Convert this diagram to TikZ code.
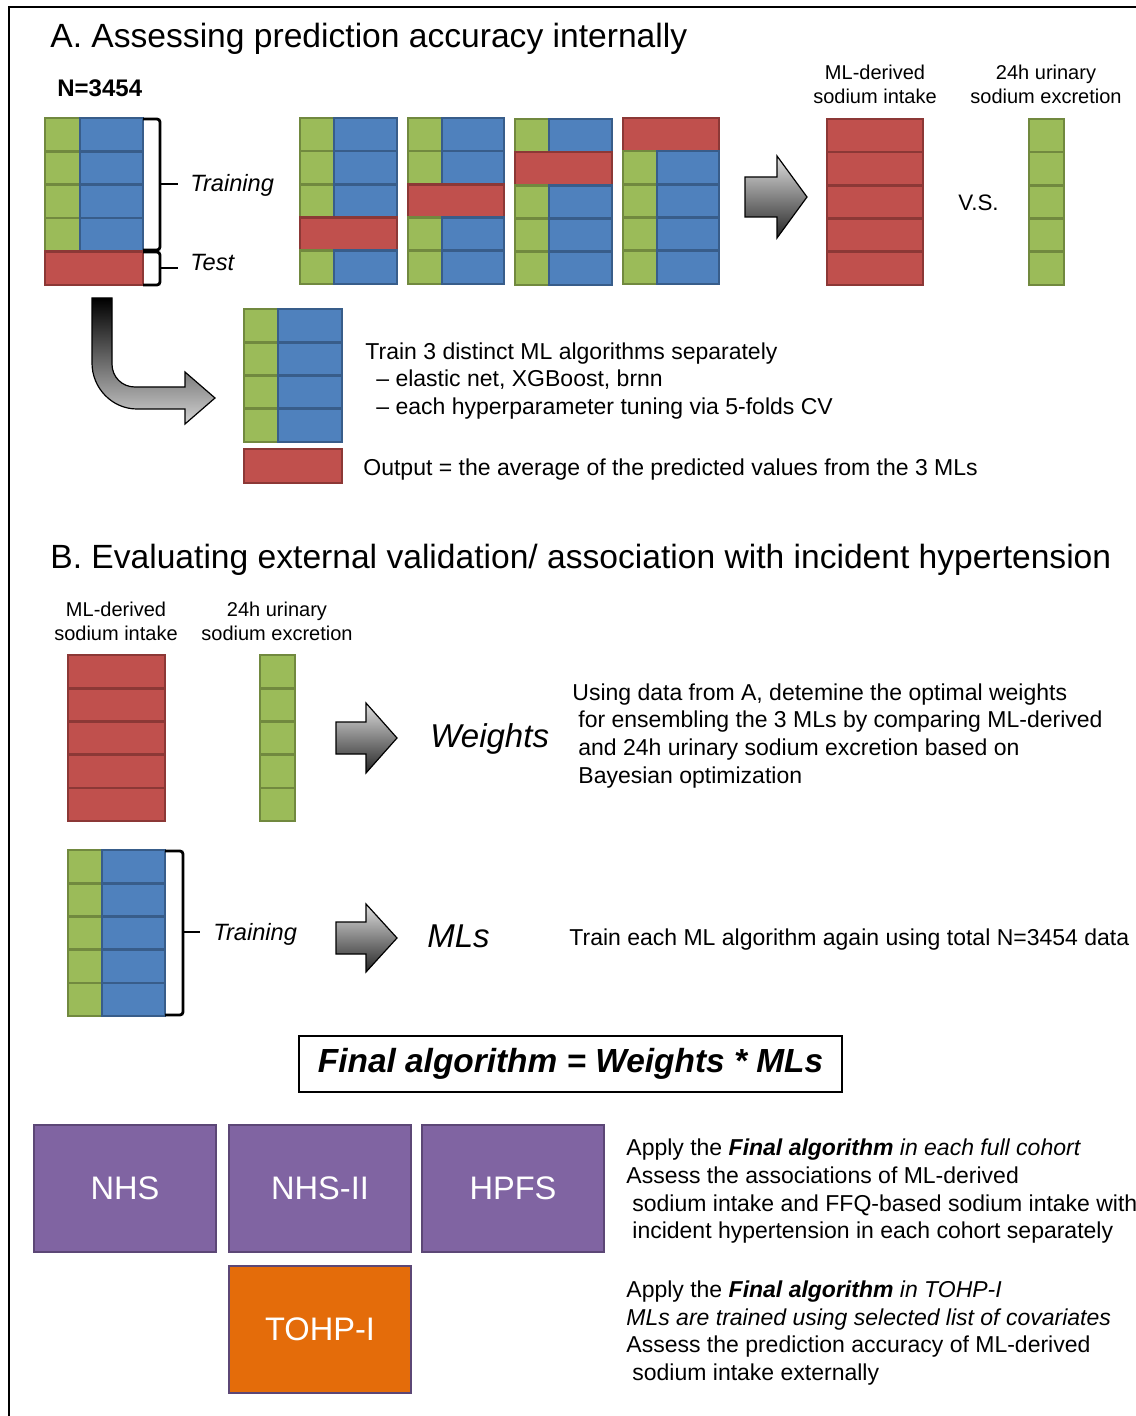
\documentclass[tikz,border=0pt]{standalone}
\usepackage{fontspec}
\setmainfont{Liberation Sans}
\usetikzlibrary{shadings}

\definecolor{gfill}{HTML}{9BBB59}
\definecolor{gline}{HTML}{71893F}
\definecolor{bfill}{HTML}{4F81BD}
\definecolor{bline}{HTML}{385D8A}
\definecolor{rfill}{HTML}{C0504D}
\definecolor{rline}{HTML}{8C3836}
\definecolor{pfill}{HTML}{8064A2}
\definecolor{pline}{HTML}{5C4776}
\definecolor{ofill}{HTML}{E46C0A}

% one block of data rows: green key column + blue feature columns, one row may be red
\newcommand\datablock[7]{% #1 x left, #2 x split, #3 x right, #4 y top, #5 row height, #6 rows, #7 red row
  \foreach \rw in {1,...,#6}{%
    \pgfmathsetmacro\ya{#4+(\rw-1)*#5}%
    \pgfmathsetmacro\yb{#4+\rw*#5}%
    \ifnum\rw=#7\relax
      \filldraw[redcell] (#1,\ya) rectangle (#3,\yb);
    \else
      \filldraw[greencell] (#1,\ya) rectangle (#2,\yb);
      \filldraw[bluecell] (#2,\ya) rectangle (#3,\yb);
    \fi}}
% a single-colour column of rows
\newcommand\colblock[6]{% #1 style, #2 x left, #3 x right, #4 y top, #5 row height, #6 rows
  \foreach \rw in {1,...,#6}{%
    \pgfmathsetmacro\ya{#4+(\rw-1)*#5}%
    \pgfmathsetmacro\yb{#4+\rw*#5}%
    \filldraw[#1] (#2,\ya) rectangle (#3,\yb);}}
% grey block arrow pointing right
\newcommand\blockarrow[6]{% #1 x left, #2 x head, #3 x tip, #4 y mid, #5 shaft half, #6 head half
  \draw[blockarr] (#1,#4-#5) -- (#2,#4-#5) -- (#2,#4-#6) -- (#3,#4) -- (#2,#4+#6)
    -- (#2,#4+#5) -- (#1,#4+#5) -- cycle;}

\begin{document}
\begin{tikzpicture}[x=0.5pt,y=-0.5pt,
  greencell/.style={fill=gfill,draw=gline,line width=1.3pt},
  bluecell/.style={fill=bfill,draw=bline,line width=1.3pt},
  redcell/.style={fill=rfill,draw=rline,line width=1.3pt},
  blockarr/.style={draw=black,line width=0.6pt,top color=gray!25,bottom color=black!85},
  bracket/.style={draw=black,line width=1.4pt,rounded corners=1.5pt},
  title/.style={font=\fontsize{16.8}{20}\selectfont,inner sep=0pt,anchor=base west},
  body/.style={font=\fontsize{11.5}{14}\selectfont,inner sep=0pt,anchor=base west},
  lbl/.style={font=\fontsize{10}{12.5}\selectfont,inner sep=0pt,anchor=base,align=center},
  big/.style={font=\fontsize{16.5}{20}\selectfont\itshape,inner sep=0pt,anchor=base west},
  cohort/.style={fill=pfill,draw=pline,line width=1pt,minimum width=91pt,minimum height=63.5pt,
    inner sep=0pt,text=white,font=\fontsize{16.3}{19}\selectfont},
  finalbox/.style={draw=black,line width=0.8pt,minimum width=271.5pt,minimum height=28pt,
    inner sep=0pt,font=\fontsize{16.7}{20}\selectfont\bfseries\itshape}]
\useasboundingbox (0,0) rectangle (1135,1416);

% outer frame
\draw[line width=1.1pt] (9,1425) -- (9,7) -- (1145,7);

% ---------------- Section A ----------------
\node[title] (ta) at (50,48) {A. Assessing prediction accuracy internally};
\node[body,font=\fontsize{12}{14}\selectfont\bfseries] (n) at (57,97) {N=3454};

% full data set split into training and test
\datablock{45}{80}{143}{118}{33.4}{5}{5}
\draw[bracket] (143,119) -- (160,119) -- (160,250) -- (143,250);
\draw[bracket] (143,252) -- (160,252) -- (160,285) -- (143,285);
\node[body,font=\fontsize{11.8}{14}\selectfont\itshape] (tr) at (190,192) {Training};
\node[body,font=\fontsize{11.8}{14}\selectfont\itshape] (te) at (190,271) {Test};
\draw[line width=1.4pt] (160,184) -- (178,184);
\draw[line width=1.4pt] (160,268) -- (178,268);

% the four remaining folds
\datablock{300}{334}{397}{118}{33.2}{5}{4}
\datablock{408}{442}{504}{118}{33.2}{5}{3}
\datablock{515}{549}{612}{119}{33.2}{5}{2}
\datablock{623}{657}{719}{118}{33.2}{5}{1}

\blockarrow{745}{777}{807}{197}{20}{41}

\node[lbl] (mlA) at (875,104) {ML-derived\\[-0.5pt]sodium intake};
\colblock{redcell}{827}{923}{119}{33.2}{5}
\node[body,font=\fontsize{11.2}{14}\selectfont] (vs) at (958,211) {V.S.};
\node[lbl] (urA) at (1046,104) {24h urinary\\[-0.5pt]sodium excretion};
\colblock{greencell}{1029}{1064}{119}{33.2}{5}

% curved arrow into the training step
\draw[line width=0.6pt,draw=black,top color=black,bottom color=gray!35]
  (92,298) -- (92,363) .. controls (92,388) and (112,409) .. (137,409) -- (185,409)
  -- (185,424) -- (215,398) -- (185,372) -- (185,387) -- (135,387)
  .. controls (122,387) and (112,377) .. (112,364) -- (112,298) -- cycle;

\datablock{244}{278}{342}{309}{33.25}{4}{0}
\filldraw[redcell] (244,449) rectangle (342,483);

\node[body] (a1) at (365,360) {Train 3 distinct ML algorithms separately};
\node[body] (a2) at (376,387) {\textendash\ elastic net, XGBoost, brnn};
\node[body] (a3) at (376,415) {\textendash\ each hyperparameter tuning via 5-folds CV};
\node[body] (a4) at (363,476) {Output = the average of the predicted values from the 3 MLs};

% ---------------- Section B ----------------
\node[title] (tb) at (50,568) {B. Evaluating external validation/ association with incident hypertension};

\node[lbl] (mlB) at (116,640) {ML-derived\\[-0.5pt]sodium intake};
\node[lbl] (urB) at (277,640) {24h urinary\\[-0.5pt]sodium excretion};
\colblock{redcell}{68}{165}{655}{33.2}{5}
\colblock{greencell}{260}{295}{655}{33.2}{5}

\blockarrow{336}{366}{397}{738}{16}{35}
\node[big] (w) at (430,747) {Weights};
\node[body] (b1) at (572,700) {Using data from A, detemine the optimal weights};
\node[body] (b2) at (578,727) {for ensembling the 3 MLs by comparing ML-derived};
\node[body] (b3) at (578,755) {and 24h urinary sodium excretion based on};
\node[body] (b4) at (578,783) {Bayesian optimization};

\datablock{68}{102}{165}{850}{33.2}{5}{0}
\draw[bracket] (165,851) -- (183,851) -- (183,1015) -- (165,1015);
\draw[line width=1.4pt] (183,932) -- (200,932);
\node[body,font=\fontsize{11.8}{14}\selectfont\itshape] (tr2) at (213,940) {Training};

\blockarrow{336}{366}{397}{938}{16}{34}
\node[big] (mls) at (427,947) {MLs};
\node[body] (c1) at (569,945) {Train each ML algorithm again using total N=3454 data};

\node[finalbox] (final) at (570.5,1064) {Final algorithm = Weights * MLs};

% cohorts
\node[cohort] (nhs) at (125,1188.5) {NHS};
\node[cohort] (nhs2) at (320,1188.5) {NHS-II};
\node[cohort] (hpfs) at (513,1188.5) {HPFS};
\node[cohort,fill=ofill] (tohp) at (320,1329.5) {TOHP-I};

\node[body] (d1) at (626,1155) {Apply the \textbf{\textit{Final algorithm}} \textit{in each full cohort}};
\node[body] (d2) at (626,1183) {Assess the associations of ML-derived};
\node[body] (d3) at (632,1211) {sodium intake and FFQ-based sodium intake with};
\node[body] (d4) at (632,1238) {incident hypertension in each cohort separately};

\node[body] (e1) at (626,1297) {Apply the \textbf{\textit{Final algorithm}} \textit{in TOHP-I}};
\node[body] (e2) at (626,1325) {\textit{MLs are trained using selected list of covariates}};
\node[body] (e3) at (626,1352) {Assess the prediction accuracy of ML-derived};
\node[body] (e4) at (632,1380) {sodium intake externally};
\end{tikzpicture}
\end{document}
